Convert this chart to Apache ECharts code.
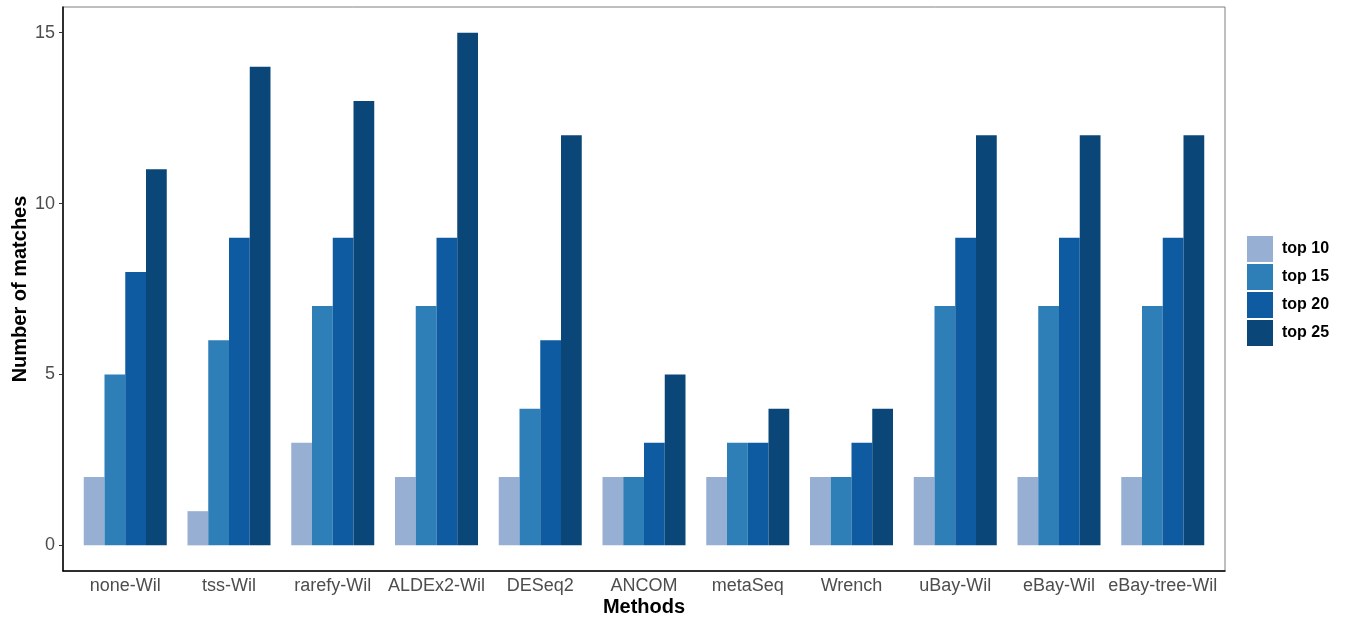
<!DOCTYPE html>
<html>
<head>
<meta charset="utf-8">
<script src="https://cdn.jsdelivr.net/npm/echarts@6/dist/echarts.min.js"></script>
<style>
html,body{margin:0;padding:0;background:#fff;}
#chart{width:1346px;height:621px;}
</style>
</head>
<body>
<div id="chart"></div>
<script>
const categories = ['none-Wil','tss-Wil','rarefy-Wil','ALDEx2-Wil','DESeq2','ANCOM','metaSeq','Wrench','uBay-Wil','eBay-Wil','eBay-tree-Wil'];
const seriesNames = ['top 10','top 15','top 20','top 25'];
const top10 = [2,1,3,2,2,2,2,2,2,2,2];
const top15 = [5,6,7,7,4,2,3,2,7,7,7];
const top20 = [8,9,9,9,6,3,3,3,9,9,9];
const top25 = [11,14,13,15,12,5,4,4,12,12,12];
const yTicks = [0,5,10,15];
const colors = ['#98AFD4','#2E7EB7','#0F5BA2','#0B4679'];

const values = [top10, top15, top20, top25];
const chart = echarts.init(document.getElementById('chart'));
const font = 'Liberation Sans, Arial, sans-serif';
// outer panel
const L = 63, R = 121, T = 7, B = 50;
const W = 1346 - L - R;
// ggplot discrete expansion: 0.6 units on each side of 11 categories
const unit = W / (categories.length + 0.2);
const inset = unit * 0.1;
chart.setOption({
  animation: false,
  textStyle: {fontFamily: font},
  grid: [
    {left: L + inset, right: R + inset, top: T, bottom: B, containLabel: false, outerBoundsMode: 'none'},
    {left: L, right: R, top: T, bottom: B, show: true, borderColor: '#7F7F7F', borderWidth: 1,
     containLabel: false, outerBoundsMode: 'none', z: 0}
  ],
  legend: {
    orient: 'vertical', left: 1247, top: 236, padding: 0,
    itemWidth: 26, itemHeight: 26, itemGap: 2,
    icon: 'rect',
    textStyle: {fontSize: 16, fontWeight: 'bold', color: '#000', fontFamily: font, padding: [0,0,0,4]},
    data: seriesNames
  },
  xAxis: [
    {
      type: 'category', data: categories, gridIndex: 0,
      axisLine: {show: false},
      axisTick: {alignWithLabel: true, length: 4, lineStyle: {color: '#333'}},
      axisLabel: {fontSize: 18, color: '#4D4D4D', margin: 6, fontFamily: font, interval: 0}
    },
    {
      type: 'value', gridIndex: 1, min: 0, max: 1,
      name: 'Methods', nameLocation: 'middle', nameGap: 26, nameMoveOverlap: false,
      nameTextStyle: {fontSize: 20, fontWeight: 'bold', color: '#000', fontFamily: font},
      axisLine: {show: true, onZero: false, lineStyle: {color: '#000', width: 1.5}},
      axisTick: {show: false}, axisLabel: {show: false}, splitLine: {show: false}
    }
  ],
  yAxis: [
    {
      type: 'value', gridIndex: 0, min: -0.75, max: 15.75,
      axisLine: {show: false}, axisTick: {show: false}, axisLabel: {show: false}, splitLine: {show: false}
    },
    {
      type: 'value', gridIndex: 1, min: -0.75, max: 15.75,
      name: 'Number of matches', nameLocation: 'middle', nameGap: 33, nameRotate: 90, nameMoveOverlap: false,
      nameTextStyle: {fontSize: 20, fontWeight: 'bold', color: '#000', fontFamily: font},
      axisLine: {show: true, onZero: false, lineStyle: {color: '#000', width: 1.5}},
      axisTick: {show: true, length: 4, customValues: yTicks, lineStyle: {color: '#333'}},
      axisLabel: {fontSize: 18, color: '#4D4D4D', margin: 8, customValues: yTicks, fontFamily: font},
      splitLine: {show: false}
    }
  ],
  series: seriesNames.map((n, i) => ({
    name: n, type: 'bar', data: values[i], xAxisIndex: 0, yAxisIndex: 0,
    barGap: '0%', barCategoryGap: '20%',
    itemStyle: {color: colors[i]}
  }))
});
</script>
</body>
</html>
